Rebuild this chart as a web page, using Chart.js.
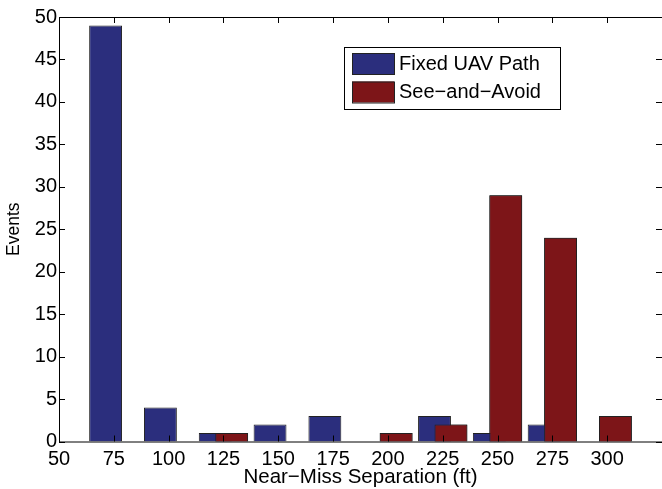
<!DOCTYPE html>
<html>
<head>
<meta charset="utf-8">
<script src="https://cdn.jsdelivr.net/npm/chart.js@4"></script>
<style>
  html, body { margin: 0; padding: 0; background: #fff; overflow: hidden; }
  #wrap { width: 668px; height: 489px; }
</style>
</head>
<body>
<div id="wrap"><canvas id="chart" width="668" height="489"></canvas></div>
<script>
// 数据
const separations = [75, 100, 125, 150, 175, 200, 225, 250, 275, 300];
const fixedPath = [49, 4, 1, 2, 3, 0, 3, 1, 2, 0];
const seeAndAvoid = [0, 0, 1, 0, 0, 1, 2, 29, 24, 3];
const seriesNames = ['Fixed UAV Path', 'See\u2212and\u2212Avoid'];
const seriesColors = ['#2b2e7d', '#7d1518'];

const FONT = 'Liberation Sans, Arial, Helvetica, sans-serif';

// 坐标框和内向刻度
const boxPlugin = {
    id: 'boxTicks',
    afterDatasetsDraw(chart) {
        const ctx = chart.ctx;
        // 红色柱子画在上面
        chart.getDatasetMeta(1).data.forEach(el => el.draw(ctx));

        const a = chart.chartArea;
        const xs = chart.scales.x, ys = chart.scales.y;
        ctx.save();
        ctx.strokeStyle = '#000';
        ctx.lineWidth = 1;
        ctx.beginPath();
        ctx.rect(a.left + 0.5, a.top + 0.5, a.right - a.left, a.bottom - a.top);
        xs.ticks.forEach(t => {
            const px = Math.round(xs.getPixelForValue(t.value)) + 0.5;
            ctx.moveTo(px, a.bottom); ctx.lineTo(px, a.bottom - 6);
            ctx.moveTo(px, a.top); ctx.lineTo(px, a.top + 6);
        });
        ys.ticks.forEach(t => {
            const py = Math.round(ys.getPixelForValue(t.value)) + 0.5;
            ctx.moveTo(a.left, py); ctx.lineTo(a.left + 6, py);
            ctx.moveTo(a.right, py); ctx.lineTo(a.right - 6, py);
        });
        ctx.stroke();
        ctx.restore();
    },
    afterDraw(chart) {
        // 图例
        const ctx = chart.ctx;
        ctx.save();
        ctx.fillStyle = '#fff';
        ctx.fillRect(344, 47, 216, 62);
        ctx.strokeStyle = '#000';
        ctx.lineWidth = 1;
        ctx.strokeRect(344.5, 47.5, 216, 62);
        ctx.font = '20px ' + FONT;
        ctx.textBaseline = 'middle';
        chart.data.datasets.forEach((ds, i) => {
            const y = 53 + i * 28.5;
            ctx.fillStyle = ds.backgroundColor;
            ctx.fillRect(352, y, 42, 21);
            ctx.strokeStyle = '#222';
            ctx.strokeRect(352.5, y + 0.5, 42, 21);
            ctx.fillStyle = '#000';
            ctx.fillText(ds.label, 399, y + 11);
        });
        ctx.restore();
    }
};

new Chart(document.getElementById('chart').getContext('2d'), {
    type: 'bar',
    data: {
        datasets: [
            {
                label: seriesNames[0],
                data: separations.map((x, i) => ({ x: x, y: fixedPath[i] })),
                backgroundColor: seriesColors[0],
                borderColor: '#222',
                borderWidth: 1
            },
            {
                label: seriesNames[1],
                data: separations.map((x, i) => ({ x: x, y: seeAndAvoid[i] })),
                backgroundColor: seriesColors[1],
                borderColor: '#222',
                borderWidth: 1
            }
        ]
    },
    options: {
        responsive: false,
        animation: false,
        categoryPercentage: 0.6,
        barPercentage: 2.0,
        layout: { padding: { left: 0, top: 17, right: 4, bottom: 0 } },
        plugins: {
            legend: { display: false },
            tooltip: { enabled: false }
        },
        scales: {
            x: {
                type: 'linear',
                offset: false,
                min: 50,
                max: 325,
                grid: { display: false, drawTicks: false },
                border: { display: false },
                ticks: {
                    stepSize: 25,
                    padding: 6,
                    color: '#000',
                    font: { family: FONT, size: 20 },
                    maxRotation: 0,
                    autoSkip: false,
                    callback: v => (v === 325 ? '' : v)
                },
                title: {
                    display: true,
                    text: 'Near\u2212Miss Separation (ft)',
                    color: '#000',
                    font: { family: FONT, size: 20.5 },
                    padding: { top: 0, bottom: -1 }
                },
                afterFit: s => { s.height = 47.5; }
            },
            y: {
                min: 0,
                max: 50,
                grid: { display: false, drawTicks: false },
                border: { display: false },
                ticks: {
                    stepSize: 5,
                    padding: 2,
                    color: '#000',
                    font: { family: FONT, size: 20 }
                },
                title: {
                    display: true,
                    text: 'Events',
                    color: '#000',
                    font: { family: FONT, size: 17.5 },
                    padding: { top: 4, bottom: 0 }
                },
                afterFit: s => { s.width = 59; }
            }
        }
    },
    plugins: [boxPlugin]
});
</script>
</body>
</html>
